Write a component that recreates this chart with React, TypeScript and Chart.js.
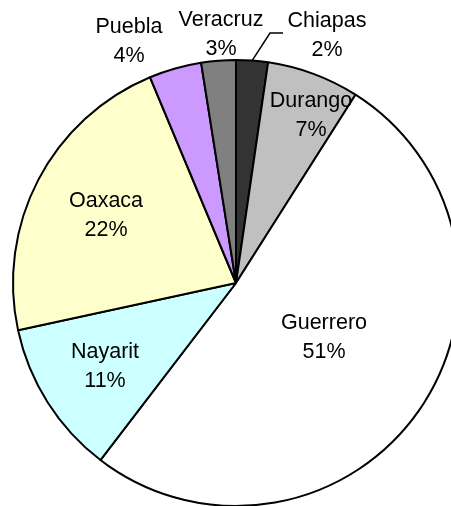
import React, { useEffect, useRef } from "react";
import { Chart, registerables } from "chart.js";

Chart.register(...registerables);

const categories = ["Chiapas", "Durango", "Guerrero", "Nayarit", "Oaxaca", "Puebla", "Veracruz"];
const values = [2.3, 6.7, 51.4, 11.2, 22.1, 3.8, 2.5];
const colors = ["#333333", "#C0C0C0", "#FFFFFF", "#CCFFFF", "#FFFFCC", "#CC99FF", "#808080"];

// label anchor: offset of text center x and first baseline y from the pie center
const labelOffsets: Record<string, [number, number]> = {
  Chiapas: [91, -256],
  Durango: [75, -176],
  Guerrero: [88, 46],
  Nayarit: [-131, 75],
  Oaxaca: [-130, -76],
  Puebla: [-107, -250],
  Veracruz: [-15, -257],
};

const FONT = "21.5px 'Liberation Sans', Arial, sans-serif";
const LINE = 29;

const labelPlugin = {
  id: "sliceLabels",
  afterDatasetsDraw(chart: any) {
    const ctx = chart.ctx;
    const meta = chart.getDatasetMeta(0);
    const data = chart.data.datasets[0].data as number[];
    const total = data.reduce((a, b) => a + b, 0);
    ctx.save();
    ctx.font = FONT;
    ctx.fillStyle = "#000";
    ctx.textAlign = "center";
    ctx.textBaseline = "alphabetic";
    meta.data.forEach((arc: any, i: number) => {
      const name = chart.data.labels[i];
      const off = labelOffsets[name];
      const cx = arc.x + off[0];
      const cy = arc.y + off[1];
      const pct = Math.round((data[i] / total) * 100) + "%";
      ctx.fillText(name, cx, cy);
      ctx.fillText(pct, cx, cy + LINE);
      if (name === "Chiapas") {
        const mid = (arc.startAngle + arc.endAngle) / 2;
        const px = arc.x + Math.cos(mid) * arc.outerRadius;
        const py = arc.y + Math.sin(mid) * arc.outerRadius;
        ctx.beginPath();
        ctx.strokeStyle = "#000";
        ctx.lineWidth = 1.5;
        ctx.moveTo(px, py);
        ctx.lineTo(arc.x + 34, arc.y - 250);
        ctx.lineTo(arc.x + 47, arc.y - 250);
        ctx.stroke();
      }
    });
    ctx.restore();
  },
};

export default function App() {
  const ref = useRef<HTMLCanvasElement>(null);
  useEffect(() => {
    if (!ref.current) return;
    const chart = new Chart(ref.current, {
      type: "pie",
      data: {
        labels: categories,
        datasets: [
          {
            data: values,
            backgroundColor: colors,
            borderColor: "#000000",
            borderWidth: 2,
          },
        ],
      },
      options: {
        responsive: false,
        animation: false,
        layout: { padding: { left: 12, top: 59, right: 20, bottom: 13 } },
        plugins: {
          legend: { display: false },
          tooltip: { enabled: false },
        },
      },
      plugins: [labelPlugin],
    });
    return () => chart.destroy();
  }, []);
  return (
    <div
      style={{
        position: "fixed",
        left: 0,
        top: 0,
        width: 451,
        height: 506,
        overflow: "hidden",
        background: "#fff",
      }}
    >
      <canvas ref={ref} width={480} height={520} style={{ width: 480, height: 520, display: "block" }} />
    </div>
  );
}
